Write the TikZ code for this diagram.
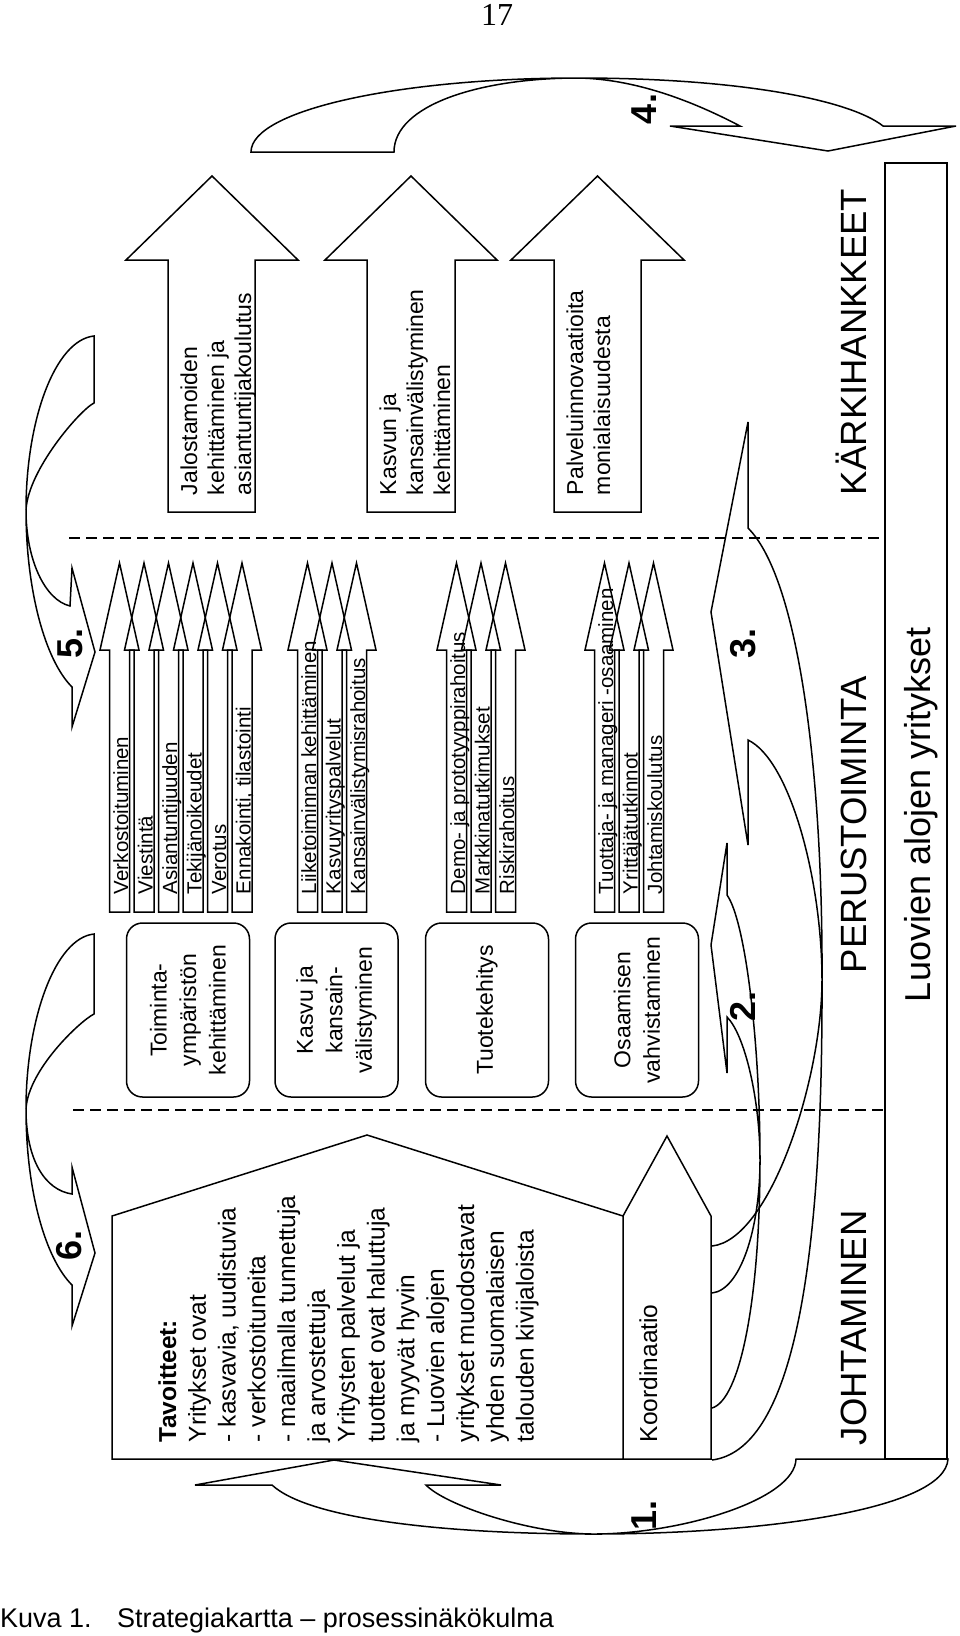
\documentclass[tikz,border=0pt]{standalone}
\usepackage{fontspec}
\setmainfont{Liberation Sans}
\newfontfamily\numfont{Liberation Serif}
\newcommand{\smallarr}[3]{%
  \draw[shp] ({#1-10},912) -- ({#1-10},650) -- ({#1-19.5},650) -- (#1,563) -- ({#1+19.5},650) -- ({#1+10},650) -- ({#1+10},912) -- cycle;
  \node[smalltxt] (#2) at ({#1+8.5},894) {#3};
}
\newcommand{\bigarr}[5]{%
  \draw[shp] (#1,512) -- (#1,260) -- (#3,260) -- ({(#3+#4)/2},176) -- (#4,260) -- (#2,260) -- (#2,512) -- cycle;
}
\begin{document}
\begin{tikzpicture}[x=1pt,y=-1pt,
  shp/.style={draw=black,line width=1.5pt,line join=miter},
  dashln/.style={draw=black,line width=1.5pt,dash pattern=on 11pt off 6pt},
  rot/.style={rotate=90,inner sep=0pt,outer sep=0pt},
  smalltxt/.style={rot,anchor=base west,font=\fontsize{20.5}{24}\selectfont},
  bigtxt/.style={rot,anchor=base west,font=\fontsize{23}{28}\selectfont},
  tavtxt/.style={rot,anchor=base west,font=\fontsize{24.5}{30}\selectfont},
  headtxt/.style={rot,anchor=base west,font=\fontsize{36.5}{40}\selectfont},
  numtxt/.style={rot,anchor=center,font=\fontsize{36}{40}\selectfont\bfseries},
  boxst/.style={draw=black,line width=1.5pt,rounded corners=16pt,rotate=90,minimum width=174pt,minimum height=123pt,align=center,inner sep=0pt,font=\fontsize{23}{29.5}\selectfont},
]
\useasboundingbox (0,0) rectangle (960,1636);

% page number and caption
\node[font=\numfont\fontsize{32}{36}\selectfont,anchor=base] (pnum) at (497,25) {17};
\node[font=\fontsize{27}{30}\selectfont,anchor=base west,inner sep=0pt] (cap1) at (0,1627) {Kuva 1.};
\node[font=\fontsize{27}{30}\selectfont,anchor=base west,inner sep=0pt] (cap2) at (117,1627) {Strategiakartta -- prosessinäkökulma};

% right bar
\draw[shp] (885,163) rectangle (947,1459);
\node[rot,anchor=base west,font=\fontsize{36}{40}\selectfont] (luov) at (930,1002) {Luovien alojen yritykset};

% section headings
\node[headtxt] (hk) at (866,495) {KÄRKIHANKKEET};
\node[headtxt] (hp) at (866,973) {PERUSTOIMINTA};
\node[headtxt] (hj) at (866,1445) {JOHTAMINEN};

% dashed separators
\draw[dashln] (69,538) -- (885,538);
\draw[dashln] (73,1110) -- (885,1110);

% big arrows
\bigarr{168}{255}{126}{298}{}
\bigarr{367}{455}{325}{497}{}
\bigarr{554}{641}{511}{684}{}
\node[bigtxt] (ka1) at (197,495) {Jalostamoiden};
\node[bigtxt] (ka2) at (224,495) {kehittäminen ja};
\node[bigtxt] (ka3) at (251,495) {asiantuntijakoulutus};
\node[bigtxt] (kb1) at (396,495) {Kasvun ja};
\node[bigtxt] (kb2) at (423,495) {kansainvälistyminen};
\node[bigtxt] (kb3) at (450,495) {kehittäminen};
\node[bigtxt] (kc1) at (583,495) {Palveluinnovaatioita};
\node[bigtxt] (kc2) at (610,495) {monialaisuudesta};

% small arrows
\smallarr{119.5}{s1}{Verkostoituminen}
\smallarr{144}{s2}{Viestintä}
\smallarr{168.5}{s3}{Asiantuntijuuden}
\smallarr{193}{s4}{Tekijänoikeudet}
\smallarr{217.5}{s5}{Verotus}
\smallarr{242}{s6}{Ennakointi, tilastointi}
\smallarr{307.5}{s7}{Liiketoiminnan kehittäminen}
\smallarr{332}{s8}{Kasvuyrityspalvelut}
\smallarr{356.5}{s9}{Kansainvälistymisrahoitus}
\smallarr{456.5}{s10}{Demo- ja prototyyppirahoitus}
\smallarr{481}{s11}{Markkinatutkimukset}
\smallarr{505.5}{s12}{Riskirahoitus}
\smallarr{604.5}{s13}{Tuottaja- ja manageri -osaaminen}
\smallarr{629}{s14}{Yrittäjätutkinnot}
\smallarr{653.5}{s15}{Johtamiskoulutus}

% rounded boxes
\node[boxst] (b1) at (188,1010) {Toiminta-\\ympäristön\\kehittäminen};
\node[boxst] (b2) at (336.5,1010) {Kasvu ja\\kansain-\\välistyminen};
\node[boxst] (b3) at (487,1010) {Tuotekehitys};
\node[boxst] (b4) at (637,1010) {Osaamisen\\vahvistaminen};

% house (Tavoitteet) and Koordinaatio
\draw[shp] (112,1216) -- (367,1135) -- (623,1216) -- (623,1459) -- (112,1459) -- cycle;
\draw[shp] (623,1216) -- (667,1136) -- (711,1216) -- (711,1459) -- (623,1459);
\node[tavtxt,font=\fontsize{24.5}{30}\selectfont\bfseries] (t1) at (176,1442) {Tavoitteet:};
\node[tavtxt] (t2) at (205.8,1442) {Yritykset ovat};
\node[tavtxt] (t3) at (235.6,1442) {- kasvavia, uudistuvia};
\node[tavtxt] (t4) at (265.4,1442) {- verkostoituneita};
\node[tavtxt] (t5) at (295.2,1442) {- maailmalla tunnettuja};
\node[tavtxt] (t6) at (325,1442) {ja arvostettuja};
\node[tavtxt] (t7) at (354.8,1442) {Yritysten palvelut ja};
\node[tavtxt] (t8) at (384.6,1442) {tuotteet ovat haluttuja};
\node[tavtxt] (t9) at (414.4,1442) {ja myyvät hyvin};
\node[tavtxt] (t10) at (444.2,1442) {- Luovien alojen};
\node[tavtxt] (t11) at (474,1442) {yritykset muodostavat};
\node[tavtxt] (t12) at (503.8,1442) {yhden suomalaisen};
\node[tavtxt] (t13) at (533.6,1442) {talouden kivijaloista};
\node[tavtxt] (koord) at (657,1442) {Koordinaatio};

% curved arrow 1
\draw[shp] (796,1459) .. controls (795,1500) and (680,1534) .. (594,1534)
  .. controls (530,1534) and (445,1505) .. (426,1485) -- (501,1485) -- (334,1460) -- (195,1485) -- (272,1485)
  .. controls (310,1520) and (450,1534) .. (594,1534) .. controls (760,1534) and (945,1510) .. (948,1459) -- cycle;
% curved arrow 2
\draw[shp] (712,1293) .. controls (740,1290) and (760,1230) .. (760,1160) .. controls (760,1100) and (745,1035) .. (727,1017)
  -- (727,1073) -- (711,945) -- (727,843) -- (727,895)
  .. controls (745,920) and (760,1040) .. (760,1160) .. controls (760,1300) and (740,1400) .. (712,1408);
% curved arrow 3
\draw[shp] (712,1246) .. controls (770,1240) and (822,1080) .. (822,980) .. controls (822,880) and (790,760) .. (748,740)
  -- (748,845) -- (711,612) -- (748,422) -- (748,528)
  .. controls (800,580) and (823,780) .. (822,980) .. controls (823,1280) and (790,1450) .. (712,1460);
% curved arrow 4
\draw[shp] (394,152) .. controls (394,105) and (480,78) .. (578,78) .. controls (640,79) and (700,105) .. (740,126)
  -- (670,126) -- (828,151) -- (956,126) -- (883,126)
  .. controls (850,100) and (740,78) .. (578,78) .. controls (400,78) and (251,110) .. (251,152) -- cycle;
% curved arrow 5
\draw[shp] (94,403) .. controls (80,410) and (28,470) .. (26,510) .. controls (26,560) and (45,600) .. (70,606)
  -- (72,568) -- (95,652) -- (72,727) -- (72,687)
  .. controls (45,660) and (26,590) .. (26,510) .. controls (26,420) and (55,340) .. (94,336) -- cycle;
% curved arrow 6
\draw[shp] (94,1014) .. controls (80,1021) and (28,1070) .. (26,1109) .. controls (26,1160) and (45,1190) .. (72,1194)
  -- (72,1167) -- (95,1253) -- (72,1326) -- (72,1285)
  .. controls (45,1258) and (26,1190) .. (26,1109) .. controls (26,1020) and (55,938) .. (94,934) -- cycle;

% arrow numbers
\node[numtxt] (n1) at (644,1515) {1.};
\node[numtxt] (n2) at (743,1006) {2.};
\node[numtxt] (n3) at (743,643) {3.};
\node[numtxt] (n4) at (644,109) {4.};
\node[numtxt] (n5) at (70,643) {5.};
\node[numtxt] (n6) at (69,1245) {6.};
\end{tikzpicture}
\end{document}
